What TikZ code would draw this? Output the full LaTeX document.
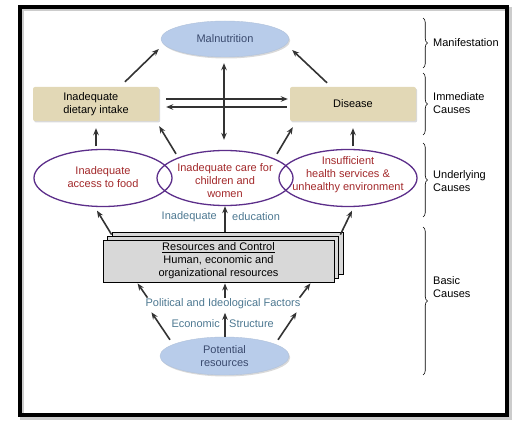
\documentclass[tikz,border=0pt]{standalone}
\usepackage{fontspec}
\setmainfont{Liberation Sans}
\usetikzlibrary{positioning, arrows.meta, shapes, shadows, decorations.pathreplacing}

\definecolor{malblue}{HTML}{B8CCEA}
\definecolor{slatetext}{HTML}{3A4A6E}
\definecolor{beige}{HTML}{E2D8B6}
\definecolor{purp}{HTML}{5C2E8A}
\definecolor{redtext}{HTML}{A2282A}
\definecolor{bluegray}{HTML}{4D7891}
\definecolor{resgray}{HTML}{D8D8D8}
\definecolor{arrgray}{HTML}{333333}

\tikzset{
  >={Stealth[length=7pt,width=5.5pt]},
  manif/.style={ellipse, fill=malblue, draw=malblue!85!gray, line width=0.4pt, text=slatetext,
    inner sep=0pt, minimum width=128pt, minimum height=36pt, align=center,
    drop shadow={opacity=0.3, shadow xshift=1.2pt, shadow yshift=-1.5pt}},
  immbox/.style={rectangle, rounded corners=2pt, fill=beige, minimum width=126pt,
    minimum height=34pt, align=left,
    drop shadow={opacity=0.3, shadow xshift=1.2pt, shadow yshift=-1.5pt}},
  underell/.style={ellipse, draw=purp, line width=1.3pt, minimum width=138pt, minimum height=57pt},
  undertext/.style={text=redtext, align=center, inner sep=0pt},
  resbox/.style={rectangle, draw=black, fill=resgray, line width=0.8pt, inner sep=1pt,
    minimum width=231pt, minimum height=42pt},
  factor/.style={text=bluegray, inner sep=1pt},
  arr/.style={->, line width=1.6pt, draw=arrgray},
  levelbrace/.style={decorate, decoration={brace, amplitude=4.5pt}, line width=0.6pt},
  level/.style={anchor=west, align=left, inner sep=1pt}
}

\begin{document}
\begin{tikzpicture}[x=1pt, y=-1pt, font=\fontsize{11}{13}\selectfont]
\useasboundingbox (0,0) rectangle (523,425);
% frame
\path[draw][line width=4pt, gray!40] (22,9.5) rectangle (509.5,417.5);
\path[draw][line width=4pt] (19.8,7) rectangle (507,415);

% manifestation and immediate causes
\node[manif] (maln) at (225,39) {Malnutrition};
\node[immbox] (diet) at (96,104) {Inadequate\\dietary intake};
\node[immbox, align=center] (dis) at (353,104) {Disease};

% underlying causes
\node[underell] (food) at (103,178) {};
\node[underell, minimum width=136pt, minimum height=55pt] (care) at (225,178) {};
\node[underell] (health) at (348,178) {};
\node[undertext] (foodtext) at (103,177) {Inadequate\\access to food};
\node[undertext] (caretext) at (225,181) {Inadequate care for\\children and\\women};
\node[undertext] (healthtext) at (348,175) {Insufficient\\health services \&\\unhealthy environment};

% basic causes
\node[resbox] (resback) at (227.5,253) {};
\node[resbox] (resmid) at (223,257) {};
\node[resbox, align=center] (res) at (218.5,261) {\underline{Resources and Control}\\Human, economic and\\organizational resources};
\node[manif, minimum width=129pt, minimum height=38pt] (pot) at (224.5,356) {Potential\\resources};

\node[factor, anchor=east] (inadeq) at (218,217) {Inadequate};
\node[factor, anchor=west] (educ) at (231,217) {education};
\node[factor] (pol) at (223,304) {Political and Ideological Factors};
\node[factor, anchor=east] (econ) at (221,324) {Economic};
\node[factor, anchor=west] (struct) at (228,324) {Structure};

% arrows, top part
\draw[arr] ([shift={(29,-5)}]diet.north) -- ([shift={(-2,10)}]maln.west);
\draw[arr] ([shift={(-26,-4)}]dis.north) -- ([shift={(3,11)}]maln.east);
\draw[arr] ([shift={(7,-5)}]diet.east) -- ([shift={(-2,-5)}]dis.west);
\draw[arr] ([shift={(-3,3)}]dis.west) -- ([shift={(7,3)}]diet.east);
\draw[arr, <->] ([shift={(-1,6)}]maln.south) -- ([shift={(-1,-10)}]care.north);
\draw[arr] ([shift={(-7,-2.5)}]food.north) -- ([shift={(0,7)}]diet.south);
\draw[arr] ([shift={(-49,4)}]care.north) -- ([shift={(0,5)}]diet.south east);
\draw[arr] ([shift={(52,4)}]care.north) -- ([shift={(3,6)}]dis.south west);
\draw[arr] ([shift={(5,-2.5)}]health.north) -- ([shift={(0,7)}]dis.south);

% arrows, bottom part
\draw[arr] ([shift={(9,-5)}]res.north west) -- ([shift={(-6,3.5)}]food.south);
\draw[arr] ([shift={(6.5,-8)}]res.north) -- (care.south);
\draw[arr] ([shift={(6,-5)}]res.north east) -- ([shift={(4,3.5)}]health.south);
\draw[arr] ([shift={(-54.5,3)}]pot.north) -- ([shift={(7,2)}]pol.south west);
\draw[arr] ([shift={(0.5,0)}]pot.north) -- ([shift={(2,2.5)}]pol.south);
\draw[arr] ([shift={(53.5,3)}]pot.north) -- ([shift={(-5,2)}]pol.south east);
\draw[arr] ([shift={(3,0)}]pol.north west) -- ([shift={(35,1)}]res.south west);
\draw[arr] ([shift={(2,0)}]pol.north) -- ([shift={(6.5,1)}]res.south);
\draw[arr] ([shift={(-2,0)}]pol.north east) -- ([shift={(-24,1)}]res.south east);

% levels on the right
\draw[levelbrace] (423,18) -- (423,68);
\draw[levelbrace] (423,73) -- (423,135);
\draw[levelbrace] (423,143) -- (423,217);
\draw[levelbrace] (423,227) -- (423,375);
\node[level] (manlab) at (432,43) {Manifestation};
\node[level] (immlab) at (432,103) {Immediate\\Causes};
\node[level] (undlab) at (432,181.5) {Underlying\\Causes};
\node[level] (baslab) at (432,287.5) {Basic\\Causes};
\end{tikzpicture}
\end{document}
